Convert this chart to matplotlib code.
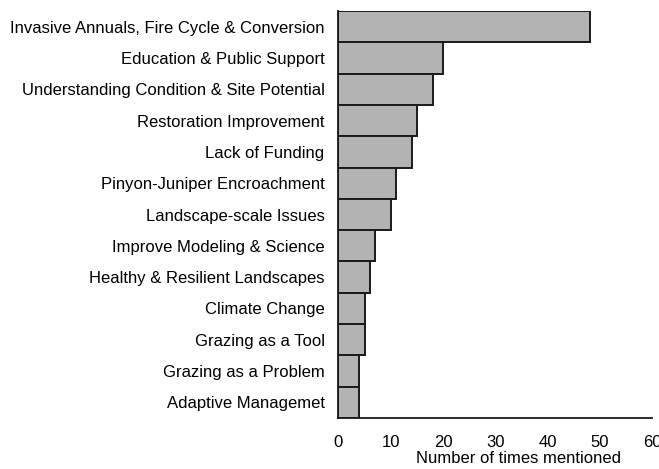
import matplotlib
matplotlib.use("Agg")
import matplotlib.pyplot as plt

plt.rcParams['font.family'] = ['Liberation Sans', 'DejaVu Sans']

categories = [
    "Invasive Annuals, Fire Cycle & Conversion",
    "Education & Public Support",
    "Understanding Condition & Site Potential",
    "Restoration Improvement",
    "Lack of Funding",
    "Pinyon-Juniper Encroachment",
    "Landscape-scale Issues",
    "Improve Modeling & Science",
    "Healthy & Resilient Landscapes",
    "Climate Change",
    "Grazing as a Tool",
    "Grazing as a Problem",
    "Adaptive Managemet",
]
counts = [48, 20, 18, 15, 14, 11, 10, 7, 6, 5, 5, 4, 4]
xticks = [0, 10, 20, 30, 40, 50, 60]

fig = plt.figure(figsize=(6.59, 4.69), dpi=100)
ax = fig.add_axes([0.5135, 0.1087, 0.4765, 0.8678])

pos = list(range(len(categories)))[::-1]
ax.barh(pos, counts, height=1.0, color='#b3b3b3', edgecolor='#1a1a1a', linewidth=1.4)

ax.set_yticks(pos)
ax.set_yticklabels(categories, fontsize=12)
ax.set_xticks(xticks)
ax.set_xticklabels([str(t) for t in xticks], fontsize=12)
ax.set_xlim(0, 60)
ax.set_ylim(-0.5, len(categories) - 0.5)
ax.tick_params(axis='y', length=0, pad=10)
ax.tick_params(axis='x', length=0, pad=12)
ax.set_xlabel("Number of times mentioned", fontsize=12)
ax.xaxis.set_label_coords(0.572, -0.08)

for s in ['top', 'right']:
    ax.spines[s].set_visible(False)
for s in ['left', 'bottom']:
    ax.spines[s].set_linewidth(1.3)
    ax.spines[s].set_color('#1a1a1a')

fig.savefig("out.png", dpi=100)
